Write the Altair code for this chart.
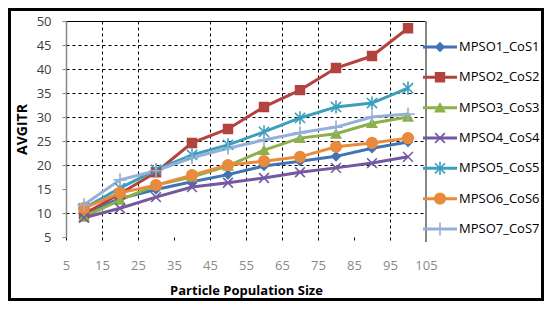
import altair as alt
import pandas as pd

# ---- data ----
pop_size = [10, 20, 30, 40, 50, 60, 70, 80, 90, 100]
series_names = ["MPSO1_CoS1", "MPSO2_CoS2", "MPSO3_CoS3", "MPSO4_CoS4",
                "MPSO5_CoS5", "MPSO6_CoS6", "MPSO7_CoS7"]
mpso1 = [10.0, 13.0, 14.9, 16.5, 18.0, 19.8, 20.8, 21.8, 23.5, 24.8]
mpso2 = [9.8, 14.0, 18.5, 24.6, 27.5, 32.1, 35.6, 40.2, 42.7, 48.5]
mpso3 = [9.2, 12.7, 15.8, 17.5, 19.8, 23.1, 25.6, 26.5, 28.7, 30.0]
mpso4 = [9.0, 11.0, 13.3, 15.4, 16.3, 17.3, 18.5, 19.4, 20.4, 21.7]
mpso5 = [11.0, 15.2, 19.0, 22.1, 24.2, 26.9, 29.8, 32.1, 32.9, 36.0]
mpso6 = [11.0, 14.2, 15.8, 17.9, 20.0, 20.8, 21.7, 23.8, 24.6, 25.6]
mpso7 = [11.7, 16.9, 18.8, 21.5, 23.5, 25.2, 26.7, 27.9, 30.0, 30.6]
x_ticks = [5, 15, 25, 35, 45, 55, 65, 75, 85, 95, 105]
y_ticks = [5, 10, 15, 20, 25, 30, 35, 40, 45, 50]

all_series = [mpso1, mpso2, mpso3, mpso4, mpso5, mpso6, mpso7]
rows = []
for name, vals in zip(series_names, all_series):
    for xv, yv in zip(pop_size, vals):
        rows.append({"series": name, "x": xv, "y": yv})
df = pd.DataFrame(rows)
legend_df = pd.DataFrame({"series": series_names})

# ---- styles ----
colors = ["#4274B4", "#B2433F", "#8DB04A", "#7458A0", "#3B9FBC", "#E98A3C", "#95B0D8"]
x_path = "M-1,-1L1,1M1,-1L-1,1"
star_path = "M-1,-1L1,1M1,-1L-1,1M0,-1.3L0,1.3"
plus_path = "M-1.2,0L1.2,0M0,-1.2L0,1.2"
shapes = ["diamond", "square", "triangle-up", x_path, star_path, "circle", plus_path]
sizes = [70, 120, 110, 110, 130, 100, 120]

cscale = alt.Scale(domain=series_names, range=colors)
sscale = alt.Scale(domain=series_names, range=shapes)
zscale = alt.Scale(domain=series_names, range=sizes)

W, H = 360, 216

x_axis = alt.Axis(values=x_ticks, title="Particle Population Size",
                  domain=False, tickSize=5, tickColor="#000000",
                  tickDash=[3, 2], labelPadding=17, labelOverlap=False,
                  labelFlush=False, labelBound=False,
                  labelFont="Open Sans", labelFontSize=13,
                  labelColor="#8a8a8a", titleFont="Open Sans",
                  titleFontSize=13, titleFontWeight="bold",
                  titleColor="#000000", titlePadding=12,
                  grid=True, gridColor="#000000", gridDash=[3, 3],
                  gridWidth=1,
                  gridOpacity={"condition": {"test": "datum.value == 5 || datum.value == 35 || datum.value == 85 || datum.value == 105", "value": 0}, "value": 1})
y_axis = alt.Axis(values=y_ticks, title="AVGITR",
                  domain=True, domainColor="#868686", domainWidth=1.5,
                  tickSize=4, tickColor="#868686", labelPadding=11,
                  labelOverlap=False, labelFlush=False, labelBound=False,
                  labelFont="Open Sans", labelFontSize=13,
                  labelColor="#404040", titleFont="Open Sans",
                  titleFontSize=14, titleFontWeight="bold",
                  titleColor="#000000", titlePadding=7,
                  grid=True, gridColor="#000000", gridWidth=1,
                  gridDash={"condition": {"test": "datum.value == 50", "value": []}, "value": [3, 3]},
                  gridOpacity={"condition": {"test": "datum.value == 5 || datum.value == 15", "value": 0}, "value": 1})

x_scale = alt.Scale(domain=[5, 105], nice=False, zero=False)
y_scale = alt.Scale(domain=[5, 50], nice=False, zero=False)

lines = alt.Chart(df).mark_line(strokeWidth=3).encode(
    x=alt.X("x:Q", scale=x_scale, axis=x_axis),
    y=alt.Y("y:Q", scale=y_scale, axis=y_axis),
    color=alt.Color("series:N", scale=cscale, legend=None),
    detail="series:N",
)
points = alt.Chart(df).mark_point(filled=True, opacity=1, strokeWidth=1.6).encode(
    x=alt.X("x:Q", scale=x_scale, axis=x_axis),
    y=alt.Y("y:Q", scale=y_scale, axis=y_axis),
    color=alt.Color("series:N", scale=cscale, legend=None),
    stroke=alt.Stroke("series:N", scale=cscale, legend=None),
    shape=alt.Shape("series:N", scale=sscale, legend=None),
    size=alt.Size("series:N", scale=zscale, legend=None),
)
right_edge = alt.Chart(legend_df).mark_rule(color="#868686", strokeWidth=1.5).encode(
    x=alt.value(W), y=alt.value(0), y2=alt.value(H + 5)
)
main = alt.layer(lines, points, right_edge)

leg_y = alt.Y("series:N", sort=series_names, axis=None,
              scale=alt.Scale(type="point", range=[26, 208], padding=0))
leg_line = alt.Chart(legend_df).mark_rule(strokeWidth=3).encode(
    x=alt.value(357), x2=alt.value(391), y=leg_y,
    color=alt.Color("series:N", scale=cscale, legend=None),
)
leg_pt = alt.Chart(legend_df).mark_point(filled=True, opacity=1, strokeWidth=1.6).encode(
    x=alt.value(374), y=leg_y,
    color=alt.Color("series:N", scale=cscale, legend=None),
    stroke=alt.Stroke("series:N", scale=cscale, legend=None),
    shape=alt.Shape("series:N", scale=sscale, legend=None),
    size=alt.Size("series:N", scale=zscale, legend=None),
)
leg_txt = alt.Chart(legend_df).mark_text(align="left", baseline="middle",
                                         font="Open Sans", fontSize=13,
                                         color="#000000").encode(
    x=alt.value(393), y=leg_y, text="series:N"
)
border = alt.Chart(legend_df).mark_rect(fill=None, stroke="#000000", strokeWidth=2.5).encode(
    x=alt.value(-56.5), x2=alt.value(476.5), y=alt.value(-11.5), y2=alt.value(278.5)
)
legend = alt.layer(leg_line, leg_pt, leg_txt, border)

chart = alt.layer(main, legend).resolve_scale(y="independent").properties(
    width=W, height=H,
    autosize=alt.AutoSizeParams(type="none"),
    padding={"left": 58, "top": 13, "right": 118, "bottom": 64},
    background="#ffffff",
).configure_view(stroke=None).configure_axis(labelOverlap=False)

chart.save("out.html", embed_options={"renderer": "svg", "actions": False})
